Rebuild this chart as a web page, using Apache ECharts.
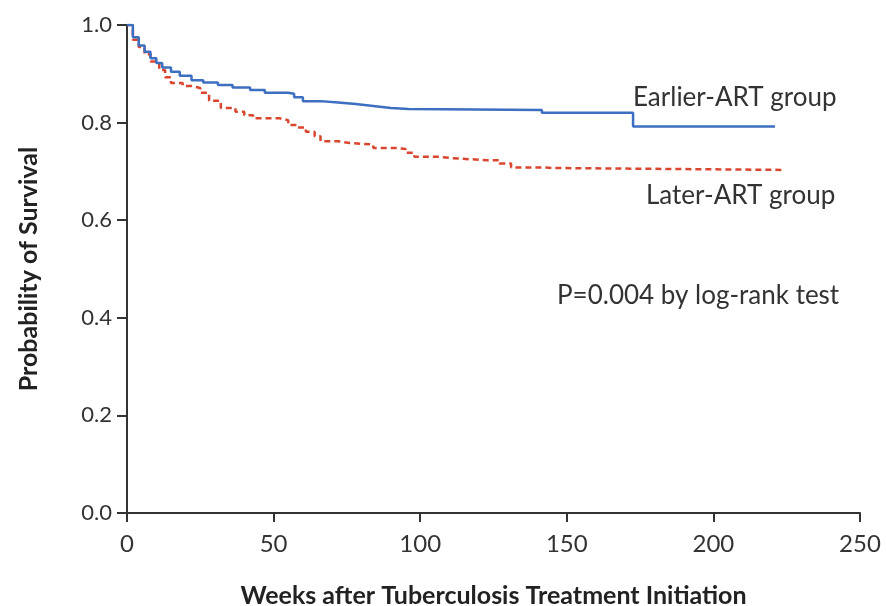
<!DOCTYPE html>
<html><head><meta charset="utf-8">
<script src="https://cdn.jsdelivr.net/npm/echarts@6/dist/echarts.min.js"></script>
<style>html,body{margin:0;padding:0;background:#fff}#c{width:886px;height:606px}</style>
</head><body><div id="c"></div>
<script>
const earlierART = [[0,1.0],[2,0.975],[4,0.958],[6,0.945],[8,0.932],[10,0.922],[12,0.913],[15,0.904],[18,0.896],[22,0.887],[26,0.882],[31,0.877],[36,0.872],[42,0.867],[47,0.861],[55,0.859],[57,0.852],[60,0.844],[66,0.841],[72,0.838],[78,0.834],[84,0.830],[90,0.828],[96,0.826],[141.5,0.820],[172.6,0.792],[221,0.792]];
const laterART = [[0,1.0],[2,0.97],[4,0.955],[6,0.94],[8,0.925],[11,0.908],[13,0.893],[15,0.881],[19,0.875],[22,0.871],[25,0.861],[28,0.845],[32,0.830],[37,0.822],[40,0.815],[43,0.809],[52,0.805],[55,0.795],[58,0.79],[61,0.781],[64,0.772],[66,0.762],[72,0.758],[76,0.755],[84,0.748],[92,0.746],[95,0.738],[98,0.730],[106,0.727],[111,0.723],[123,0.723],[127,0.716],[131,0.708],[143,0.707],[145,0.703],[224,0.703]];
const seriesNames = ['Earlier-ART group','Later-ART group'];
const pText = 'P=0.004 by log-rank test';
const xTitle = 'Weeks after Tuberculosis Treatment Initiation';
const yTitle = 'Probability of Survival';

const chart = echarts.init(document.getElementById('c'), null, {renderer:'canvas'});
const FONT = 'Lato';
const axisCol = '#333';
chart.setOption({
  animation:false,
  grid:{left:127,right:26,top:25,bottom:93,containLabel:false,outerBoundsMode:'none'},
  xAxis:{type:'value',min:0,max:250,interval:50,
    name:xTitle,nameLocation:'middle',nameGap:70,
    nameTextStyle:{fontFamily:FONT,fontWeight:'bold',fontSize:25,color:'#222'},
    axisLine:{lineStyle:{color:axisCol,width:2}},
    axisTick:{show:true,length:9,lineStyle:{color:axisCol,width:2}},
    axisLabel:{fontFamily:FONT,fontSize:24,color:'#333',margin:19},
    splitLine:{show:false}},
  yAxis:{type:'value',min:0,max:1,interval:0.2,
    name:yTitle,nameLocation:'middle',nameGap:86,
    nameTextStyle:{fontFamily:FONT,fontWeight:'bold',fontSize:25,color:'#222'},
    axisLine:{show:true,lineStyle:{color:axisCol,width:2}},
    axisTick:{show:true,length:10,lineStyle:{color:axisCol,width:2}},
    axisLabel:{fontFamily:FONT,fontSize:22,color:'#333',margin:15,formatter:v=>v.toFixed(1)},
    splitLine:{show:false}},
  series:[
    {name:seriesNames[0],type:'line',step:'end',data:earlierART,symbol:'none',
     lineStyle:{color:'#3c6fc0',width:2.5},z:3},
    {name:seriesNames[1],type:'line',step:'end',data:laterART,symbol:'none',
     lineStyle:{color:'#d9462f',width:2.5,type:[6,4]},z:2}
  ],
  graphic:[
    {type:'text',left:633,top:85,style:{text:seriesNames[0],font:'26px '+FONT,fill:'#333'}},
    {type:'text',left:646,top:183,style:{text:seriesNames[1],font:'26px '+FONT,fill:'#333'}},
    {type:'text',left:557,top:283,style:{text:pText,font:'26px '+FONT,fill:'#333'}}
  ]
});
</script></body></html>
